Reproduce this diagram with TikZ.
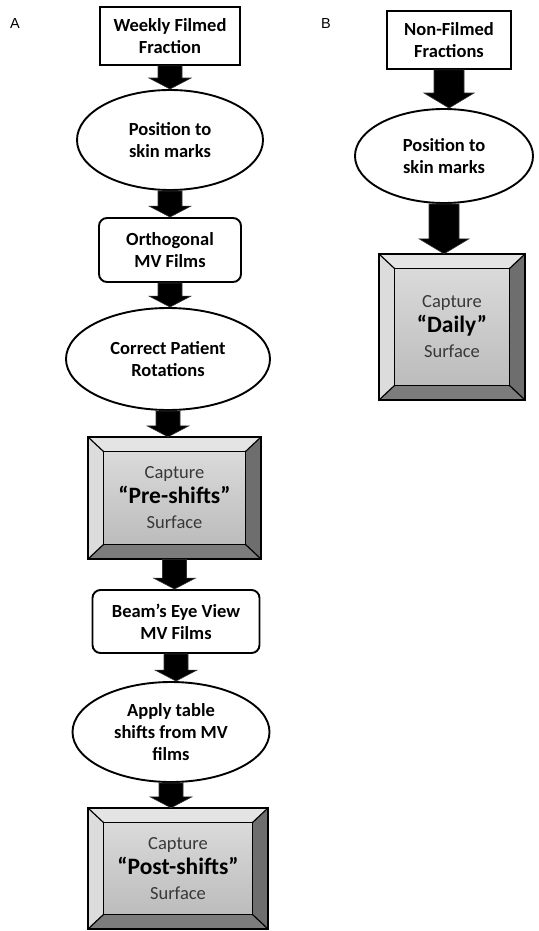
\documentclass[tikz,border=0pt]{standalone}
\usepackage{fontspec}
\setmainfont{Carlito}
\newfontfamily\labfont{Liberation Sans}
\usetikzlibrary{calc,shapes.geometric,backgrounds}
\definecolor{bevtop}{HTML}{E4E4E4}
\definecolor{bevleft}{HTML}{DCDCDC}
\definecolor{bevright}{HTML}{6E6E6E}
\definecolor{bevbot}{HTML}{7C7C7C}
\definecolor{facetop}{HTML}{DADADA}
\definecolor{facebot}{HTML}{BCBCBC}
\definecolor{captxt}{HTML}{383838}
\tikzset{
  flowbox/.style={draw=black, line width=1.9pt, fill=white, align=center, inner sep=0pt,
    font=\bfseries\fontsize{18.5}{22}\selectfont},
  flowell/.style={flowbox, shape=ellipse},
  bevbox/.style={inner sep=0pt, align=center, text=captxt, font=\fontsize{18.5}{25}\selectfont},
  panellabel/.style={font=\labfont\fontsize{14.5}{16}\selectfont},
}
\newcommand\capline[1]{Capture\\{\color{black}\bfseries\fontsize{23.5}{25}\selectfont #1}\\Surface}
\newcommand\bevelfill[1]{%
  \begin{scope}[on background layer]
  \coordinate (#1-ia) at ($(#1.north west)+(16,15)$);
  \coordinate (#1-ib) at ($(#1.north east)+(-16,15)$);
  \coordinate (#1-ic) at ($(#1.south east)+(-16,-15)$);
  \coordinate (#1-id) at ($(#1.south west)+(16,-15)$);
  \fill[bevtop] (#1.north west) -- (#1.north east) -- (#1-ib) -- (#1-ia) -- cycle;
  \fill[bevright] (#1.north east) -- (#1.south east) -- (#1-ic) -- (#1-ib) -- cycle;
  \fill[bevbot] (#1.south east) -- (#1.south west) -- (#1-id) -- (#1-ic) -- cycle;
  \fill[bevleft] (#1.south west) -- (#1.north west) -- (#1-ia) -- (#1-id) -- cycle;
  \shade[top color=facetop, bottom color=facebot] (#1-ia) rectangle (#1-ic);
  \draw[line width=1.9pt] (#1.north west) rectangle (#1.south east);
  \draw[line width=1.2pt] (#1-ia) rectangle (#1-ic);
  \draw[line width=1.2pt] (#1.north west) -- (#1-ia) (#1.north east) -- (#1-ib)
     (#1.south east) -- (#1-ic) (#1.south west) -- (#1-id);
  \end{scope}}
% block arrow: from, to, shaft half width, head half width, head length
\newcommand\blockarrow[5]{%
  \path let \p1=(#1.south), \p2=(#2.north) in
    [fill=black, draw=black!80, line width=0.6pt]
    (\x1-#3pt,\y1) -- (\x1+#3pt,\y1) -- (\x1+#3pt,\y2+#5pt) -- (\x1+#4pt,\y2+#5pt)
    -- (\x1,\y2) -- (\x1-#4pt,\y2+#5pt) -- (\x1-#3pt,\y2+#5pt) -- cycle;}
\begin{document}
\begin{tikzpicture}[x=1pt,y=-1pt]
\useasboundingbox (0,0) rectangle (538,931);
% panel labels
\node[panellabel] (la) at (15,24) {A};
\node[panellabel] (lb) at (326,24) {B};
% column A
\node[flowbox, minimum width=140, minimum height=58] (w) at (170,36) {Weekly Filmed\\Fraction};
\node[flowell, minimum width=186, minimum height=100] (p1) at (170,140) {Position to\\skin marks};
\node[flowbox, rounded corners=8pt, minimum width=142, minimum height=64] (o) at (170,250) {Orthogonal\\MV Films};
\node[flowell, minimum width=204, minimum height=102] (c) at (168,359) {Correct Patient\\Rotations};
\node[bevbox, minimum width=173, minimum height=122] (pre) at (174.5,498) {\capline{“Pre-shifts”}};
\node[flowbox, rounded corners=8pt, minimum width=167, minimum height=63] (be) at (176,621.5) {Beam’s Eye View\\MV Films};
\node[flowell, minimum width=197, minimum height=100] (ap) at (171,732) {Apply table\\shifts from MV\\films};
\node[bevbox, minimum width=180, minimum height=121] (post) at (178,868.5) {\capline{“Post-shifts”}};
\bevelfill{pre}
\bevelfill{post}
\blockarrow{w}{p1}{12}{21}{11}
\blockarrow{p1}{o}{12}{21}{11}
\blockarrow{o}{c}{12}{21}{11}
\blockarrow{c}{pre}{12}{21}{11}
\blockarrow{pre}{be}{12}{21}{11}
\blockarrow{be}{ap}{12}{21}{11}
\blockarrow{ap}{post}{12}{21}{11}
% column B
\node[flowbox, minimum width=124, minimum height=58] (nf) at (449,40) {Non-Filmed\\Fractions};
\node[flowell, minimum width=178, minimum height=94] (p2) at (444,156) {Position to\\skin marks};
\node[bevbox, minimum width=146, minimum height=146] (d) at (452,327) {\capline{“Daily”}};
\bevelfill{d}
\blockarrow{nf}{p2}{15}{25}{15}
\blockarrow{p2}{d}{15}{25}{15}
\end{tikzpicture}
\end{document}
